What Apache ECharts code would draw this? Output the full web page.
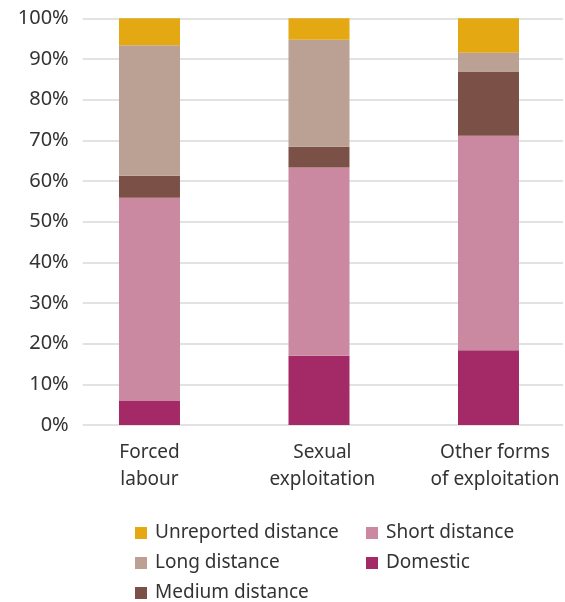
<!DOCTYPE html>
<html>
<head>
<meta charset="utf-8">
<script src="https://cdn.jsdelivr.net/npm/echarts@6/dist/echarts.min.js"></script>
<style>
html,body{margin:0;padding:0;background:#fff;}
#chart{width:565px;height:602px;}
</style>
</head>
<body>
<div id="chart"></div>
<script>
var categories = ['Forced\nlabour', 'Sexual\nexploitation', 'Other forms\nof exploitation'];
var yTicks = [0, 10, 20, 30, 40, 50, 60, 70, 80, 90, 100];
var domestic = [5.9, 17.0, 18.4];
var shortDistance = [50.0, 46.3, 52.7];
var mediumDistance = [5.4, 5.1, 15.8];
var longDistance = [32.1, 26.3, 4.6];
var unreportedDistance = [6.6, 5.3, 8.5];

var seriesNames = ['Domestic', 'Short distance', 'Medium distance', 'Long distance', 'Unreported distance'];
var seriesData = [domestic, shortDistance, mediumDistance, longDistance, unreportedDistance];
var colors = ['#A42A67', '#CB89A1', '#7B5147', '#BBA094', '#E3A812'];
var labelShift = [0, 0.02, 0.038];

var font = '"Noto Sans", "Open Sans", sans-serif';
var textColor = '#333333';

var chart = echarts.init(document.getElementById('chart'), null, {renderer: 'canvas'});

var series = seriesNames.map(function (name, i) {
  return {
    name: name,
    type: 'bar',
    stack: 'total',
    barWidth: 61,
    encode: {x: 1, y: 0},
    itemStyle: {color: colors[i]},
    data: seriesData[i].map(function (v, j) { return [v, j]; })
  };
});

var labelPos = categories.map(function (c, i) { return i + labelShift[i]; });

chart.setOption({
  animation: false,
  color: colors,
  textStyle: {fontFamily: font},
  grid: {left: 82.7, right: 2, top: 18.3, bottom: 177},
  xAxis: {
    type: 'value', min: -0.394, max: 2.4395,
    axisLine: {show: false}, axisTick: {show: false}, splitLine: {show: false},
    axisLabel: {
      customValues: labelPos,
      formatter: function (v) {
        var i = Math.round(v);
        return categories[i] || '';
      },
      fontSize: 19, lineHeight: 27, color: textColor, margin: 14, fontFamily: font,
      showMinLabel: true, showMaxLabel: true
    }
  },
  yAxis: {
    type: 'value', min: yTicks[0], max: yTicks[yTicks.length - 1], interval: 10,
    axisLine: {show: false}, axisTick: {show: false},
    axisLabel: {formatter: '{value}%', fontSize: 20, color: textColor, margin: 14, fontFamily: font},
    splitLine: {show: true, lineStyle: {color: '#D9D9D9', width: 1.5}}
  },
  legend: [
    {
      orient: 'vertical', left: 135, top: 523, height: 80, padding: 0,
      data: ['Unreported distance', 'Long distance', 'Medium distance'],
      itemWidth: 12, itemHeight: 12, itemGap: 10, icon: 'rect',
      textStyle: {fontSize: 19, lineHeight: 20, color: textColor, fontFamily: font, padding: [0, 0, 0, 3]}
    },
    {
      orient: 'vertical', left: 366, top: 523, height: 80, padding: 0,
      data: ['Short distance', 'Domestic'],
      itemWidth: 12, itemHeight: 12, itemGap: 10, icon: 'rect',
      textStyle: {fontSize: 19, lineHeight: 20, color: textColor, fontFamily: font, padding: [0, 0, 0, 3]}
    }
  ],
  series: series
});
</script>
</body>
</html>
